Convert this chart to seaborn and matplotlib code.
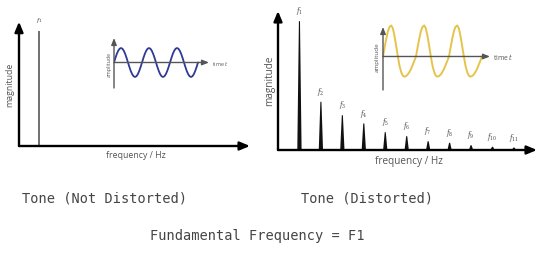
import numpy as np
import pandas as pd
import matplotlib
matplotlib.use("Agg")
import matplotlib.pyplot as plt
import seaborn as sns

# ---------------- data ----------------
harmonics = [1, 2, 3, 4, 5, 6, 7, 8, 9, 10, 11]
magnitude_distorted = [1.0, 0.374, 0.27, 0.206, 0.138, 0.107, 0.068, 0.056, 0.037, 0.025, 0.019]
harmonic_labels = [r"$f_{%d}$" % k for k in harmonics]
pure_harmonic = [1]
pure_magnitude = [1.0]

# one period of each time-domain waveform (20 samples)
pure_period = [0, .31, .59, .81, .95, 1.0, .95, .81, .59, .31,
               0, -.31, -.59, -.81, -.95, -1.0, -.95, -.81, -.59, -.31]
distorted_period = [0, .30, .58, .82, .96, 1.0, .90, .65, .33, 0,
                    -.30, -.50, -.62, -.65, -.63, -.58, -.50, -.40, -.27, -.14]
n_periods = 3

title_left = "Tone (Not Distorted)"
title_right = "Tone (Distorted)"
caption = "Fundamental Frequency = F1"

# ---------------- style ----------------
sns.set_theme(style="white")
plt.rcParams["font.family"] = ["Open Sans", "DejaVu Sans"]
plt.rcParams["mathtext.fontset"] = "dejavuserif"

W, H = 554, 255
fig = plt.figure(figsize=(W / 100, H / 100), dpi=100)
fig.patch.set_facecolor("white")


def box(x0, y0, x1, y1):
    return [x0 / W, 1 - y1 / H, (x1 - x0) / W, (y1 - y0) / H]


def fx(x):
    return x / W


def fy(y):
    return 1 - y / H


def bare(ax):
    ax.set_axis_off()
    ax.patch.set_alpha(0)


def main_arrows(ax, lw=1.7):
    ap = dict(arrowstyle="-|>,head_length=0.6,head_width=0.25", color="black",
              lw=lw, shrinkA=0, shrinkB=0, mutation_scale=10)
    ax.annotate("", xy=(0, 1), xytext=(0, 0), xycoords="axes fraction",
                textcoords="axes fraction", arrowprops=ap, annotation_clip=False)
    ax.annotate("", xy=(1, 0), xytext=(0, 0), xycoords="axes fraction",
                textcoords="axes fraction", arrowprops=ap, annotation_clip=False)


def inset_arrows(ax, xmax, ymin, ymax, color="#555555"):
    ap = dict(arrowstyle="-|>,head_length=0.5,head_width=0.2", color=color,
              lw=1.0, shrinkA=0, shrinkB=0, mutation_scale=8)
    ax.annotate("", xy=(0, ymax), xytext=(0, ymin), arrowprops=ap, annotation_clip=False)
    ax.annotate("", xy=(xmax, 0), xytext=(0, 0), arrowprops=ap, annotation_clip=False)


def wave_frame(period, n):
    vals = list(np.tile(period, n)) + [period[0]]
    ph = np.arange(len(vals)) / len(period)
    return pd.DataFrame({"phase": ph, "amp": vals})


small_col = "#555555"

# ---------------- left spectrum ----------------
axL = fig.add_axes(box(19, 22.7, 250, 147))
bare(axL)
axL.set_xlim(0, 231 / 20)
axL.set_ylim(0, 1.078)
axL.vlines(pure_harmonic, 0, pure_magnitude, color="#707070", lw=1.4)
main_arrows(axL)
for h, m in zip(pure_harmonic, pure_magnitude):
    axL.annotate(r"$f_{%d}$" % h, xy=(h, m), xytext=(0, 4.5), textcoords="offset points",
                 ha="center", va="bottom", fontsize=4.5, color="#444444", style="italic")
fig.text(fx(10), fy(85), "magnitude", rotation=90, ha="center", va="center",
         fontsize=6.3, color=small_col)
fig.text(fx(135.5), fy(156), "frequency / Hz", ha="center", va="center",
         fontsize=6.3, color=small_col)

# ---------------- right spectrum ----------------
axR = fig.add_axes(box(278, 12, 537, 151))
bare(axR)
axR.set_xlim(0, 259 / 21.45)
axR.set_ylim(0, 1.079)
w, wt = 0.1, 0.025
for h, m in zip(harmonics, magnitude_distorted):
    axR.fill([h - w, h - wt, h + wt, h + w], [0, m, m, 0], color="#111111", lw=0)
main_arrows(axR)
for h, m, lab in zip(harmonics, magnitude_distorted, harmonic_labels):
    axR.annotate(lab, xy=(h, m), xytext=(0, 3.5), textcoords="offset points",
                 ha="center", va="bottom", fontsize=4.8, color="#444444")
fig.text(fx(270), fy(81), "magnitude", rotation=90, ha="center", va="center",
         fontsize=7.2, color=small_col)
fig.text(fx(408.5), fy(162), "frequency / Hz", ha="center", va="center",
         fontsize=7.2, color=small_col)

# ---------------- left inset (pure sine) ----------------
axA = fig.add_axes(box(114, 39, 209, 89))
bare(axA)
xmaxA = 95 / 28
axA.set_xlim(0, xmaxA)
axA.set_ylim(-1.76, 1.69)
inset_arrows(axA, xmaxA, -1.76, 1.69)
sns.lineplot(data=wave_frame(pure_period, n_periods), x="phase", y="amp", ax=axA,
             color="#2e3a94", lw=1.3, legend=False)
axA.set_axis_off()
fig.text(fx(109), fy(64), "amplitude", rotation=90, ha="center", va="center",
         fontsize=3.8, color=small_col)
fig.text(fx(212), fy(63.5), "time $t$", ha="left", va="center",
         fontsize=3.9, color=small_col)

# ---------------- right inset (distorted) ----------------
axB = fig.add_axes(box(383, 28, 490, 91))
bare(axB)
xmaxB = 107 / 33
axB.set_xlim(0, xmaxB)
axB.set_ylim(-1.08, 0.95)
inset_arrows(axB, xmaxB, -1.08, 0.95)
sns.lineplot(data=wave_frame(distorted_period, n_periods), x="phase", y="amp", ax=axB,
             color="#e6c44c", lw=1.4, legend=False)
for line in axB.get_lines():
    line.set_clip_on(False)
axB.set_axis_off()
fig.text(fx(377), fy(57), "amplitude", rotation=90, ha="center", va="center",
         fontsize=4.5, color=small_col)
fig.text(fx(493), fy(57.5), "time $t$", ha="left", va="center",
         fontsize=4.9, color=small_col)

# ---------------- captions ----------------
mono = dict(family="DejaVu Sans Mono", fontsize=9.8, color="#454545", ha="center", va="center")
fig.text(fx(105), fy(198), title_left, **mono)
fig.text(fx(367), fy(198), title_right, **mono)
fig.text(fx(257.5), fy(236), caption, **mono)

fig.savefig("out.png", dpi=100, facecolor="white")
